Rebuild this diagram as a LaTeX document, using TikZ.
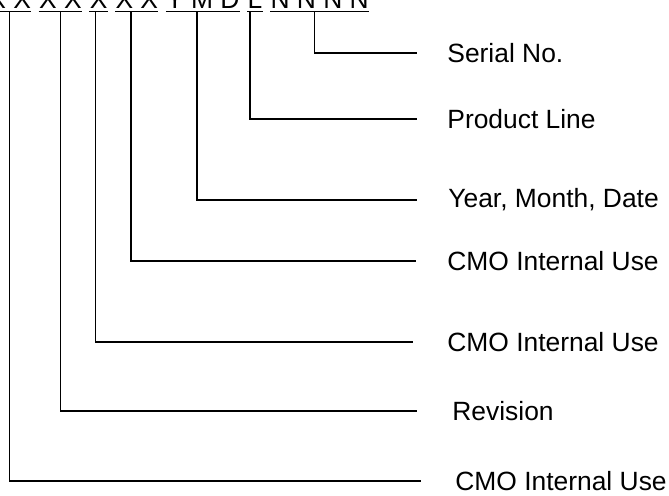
\documentclass[tikz,border=0pt]{standalone}
\usepackage{fontspec}
\setmainfont{Liberation Sans}
\usetikzlibrary{positioning}

\tikzset{
	grp/.style={inner xsep=0pt, inner ysep=1.3pt},
	tag/.style={anchor=west, inner sep=0pt},
	lead/.style={line width=0.7pt},
}

\begin{document}
\begin{tikzpicture}[x=0.5pt, y=0.5pt, every node/.style={font=\fontsize{13.2}{16}\selectfont}]
		\useasboundingbox (0,0) rectangle (669,495);
		\clip (0,0) rectangle (669,495);
		
		% part number, cut off at the top edge
		\node[grp, anchor=base west] (g1) at (-12,486.5) {X X};
		\node[grp, base right=3.67pt of g1] (g2) {X X};
		\node[grp, base right=3.67pt of g2] (g3) {X};
		\node[grp, base right=3.67pt of g3] (g4) {X X};
		\node[grp, base right=3.67pt of g4] (g5) {Y M D};
		\node[grp, base right=3.67pt of g5] (g6) {L};
		\node[grp, base right=3.67pt of g6] (g7) {N N N N};
		
		\foreach \g in {g1,g2,g3,g4,g5,g6,g7}
			\draw[lead] (\g.south west) -- (\g.south east);
		
		% leads: group / label x / y / line end / drop offset / text
		\foreach \g/\x/\y/\e/\d/\txt in {g7/447/442/417/-2.5/{Serial No.}, g6/447/376/417/-2.5/{Product Line}, g5/448/295/417/-3/{Year, Month, Date}, g4/447/234/416/-3/{CMO Internal Use}, g3/447/153/413/-1.5/{CMO Internal Use}, g2/452/84/417/0/{Revision}, g1/455/14/421/0/{CMO Internal Use}}
		{
			\node[tag] (l\g) at (\x,\y) {\txt};
			\coordinate (e\g) at (\e,\y);
			\draw[lead] ([xshift=\d pt]\g.south) |- (e\g);
		}
	\end{tikzpicture}
\end{document}
